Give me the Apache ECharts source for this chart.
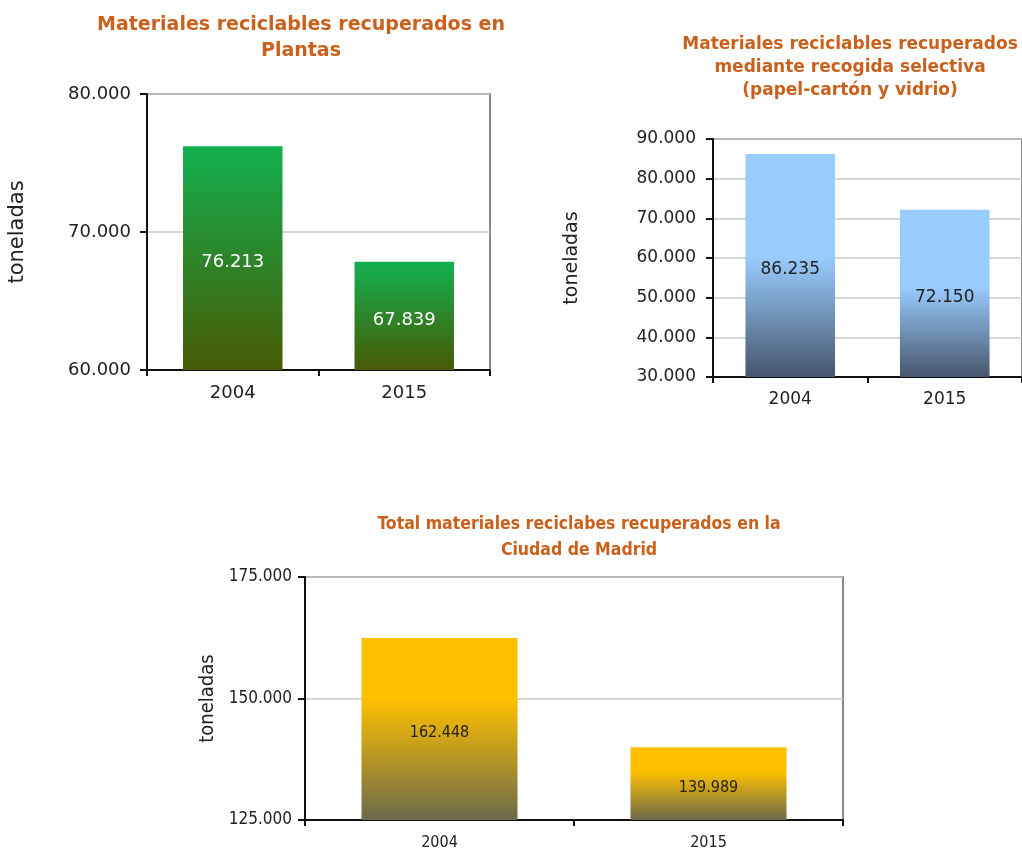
<!DOCTYPE html>
<html>
<head>
<meta charset="utf-8">
<script src="https://cdn.jsdelivr.net/npm/echarts@6/dist/echarts.min.js"></script>
<style>
  html, body { margin:0; padding:0; background:#fff; }
  #main { width:1022px; height:851px; }
</style>
</head>
<body>
<div id="main"></div>
<script>
// data
var years = ['2004', '2015'];
var plantas = [76213, 67839];
var selectiva = [86235, 72150];
var total = [162448, 139989];

var titlePlantas = 'Materiales reciclables recuperados en\nPlantas';
var titleSelectiva = 'Materiales reciclables recuperados\nmediante recogida selectiva\n(papel-cartón y vidrio)';
var titleTotal = 'Total materiales reciclabes recuperados en la\nCiudad de Madrid';
var yName = 'toneladas';

var FONT = 'DejaVu Sans';
var FONT_NARROW = "'DejaVu Sans Condensed', 'DejaVu Sans'";
var TITLE_COLOR = '#c9601b';

function fmt(v){
  return String(Math.round(v)).replace(/\B(?=(\d{3})+(?!\d))/g, '.');
}

function grad(stops){
  return {
    type:'linear', x:0, y:0, x2:0, y2:1,
    colorStops: stops.map(function(s){ return {offset:s[0], color:s[1]}; })
  };
}

// axis pair for one small chart
function yAx(idx, min, max, interval, font, size, nameSize, gap, labelMargin){
  return {
    type:'value', gridIndex:idx, min:min, max:max, interval:interval,
    name:yName, nameLocation:'middle', nameRotate:90, nameGap:gap,
    nameTextStyle:{ fontFamily:font, fontSize:nameSize, color:'#222' },
    axisLine:{ show:true, lineStyle:{ color:'#111', width:2 } },
    axisTick:{ show:true, length:7, lineStyle:{ color:'#111', width:2 } },
    axisLabel:{ fontFamily:font, fontSize:size, color:'#222', margin:labelMargin, formatter:fmt },
    splitLine:{ lineStyle:{ color:'#c8c8c8', width:1.5 } }
  };
}
function xAx(idx, font, size, labelMargin){
  return {
    type:'category', gridIndex:idx, data:years,
    axisLine:{ show:true, lineStyle:{ color:'#111', width:2 } },
    axisTick:{ show:true, length:6, lineStyle:{ color:'#111', width:2 } },
    axisLabel:{ fontFamily:font, fontSize:size, color:'#222', margin:labelMargin }
  };
}
function bars(idx, data, color, labelColor, font, size){
  return {
    type:'bar', xAxisIndex:idx, yAxisIndex:idx, data:data, barWidth:'58%',
    itemStyle:{ color:color },
    label:{ show:true, position:'inside', offset:[0,4], color:labelColor,
            fontFamily:font, fontSize:size, formatter:function(p){ return fmt(p.value); } }
  };
}

var chart = echarts.init(document.getElementById('main'));
chart.setOption({
  animation:false,
  backgroundColor:'#fff',
  title:[
    { text:titlePlantas, left:301, top:12, textAlign:'center', padding:0,
      textStyle:{ fontFamily:FONT, fontWeight:'bold', fontSize:19, lineHeight:26, color:TITLE_COLOR } },
    { text:titleSelectiva, left:850, top:33, textAlign:'center', padding:0,
      textStyle:{ fontFamily:FONT, fontWeight:'bold', fontSize:17, lineHeight:23, color:TITLE_COLOR } },
    { text:titleTotal, left:579, top:511, textAlign:'center', padding:0,
      textStyle:{ fontFamily:FONT_NARROW, fontWeight:'bold', fontSize:17.5, lineHeight:26, color:TITLE_COLOR } }
  ],
  grid:[
    { left:147, top:94, width:343, height:276, show:true, borderColor:'#898989', borderWidth:2 },
    { left:713, top:139, width:318, height:238, show:true, borderColor:'#898989', borderWidth:2 },
    { left:305, top:577, width:538, height:243, show:true, borderColor:'#898989', borderWidth:2 }
  ],
  xAxis:[ xAx(0, FONT, 18, 14), xAx(1, FONT, 17, 14), xAx(2, FONT_NARROW, 16, 15) ],
  yAxis:[
    yAx(0, 60000, 80000, 10000, FONT, 18, 21, 119, 16),
    yAx(1, 30000, 90000, 10000, FONT, 17, 19, 131, 17),
    yAx(2, 125000, 175000, 25000, FONT_NARROW, 17, 20, 83, 13)
  ],
  series:[
    bars(0, plantas, grad([[0,'#13b04f'],[1,'#475a04']]), '#fff', FONT, 18),
    bars(1, selectiva, grad([[0,'#99ccff'],[0.46,'#99ccff'],[1,'#46566c']]), '#222', FONT, 17),
    bars(2, total, grad([[0,'#ffc000'],[0.33,'#ffc000'],[1,'#6b6a4a']]), '#222', FONT_NARROW, 16)
  ]
});
</script>
</body>
</html>
